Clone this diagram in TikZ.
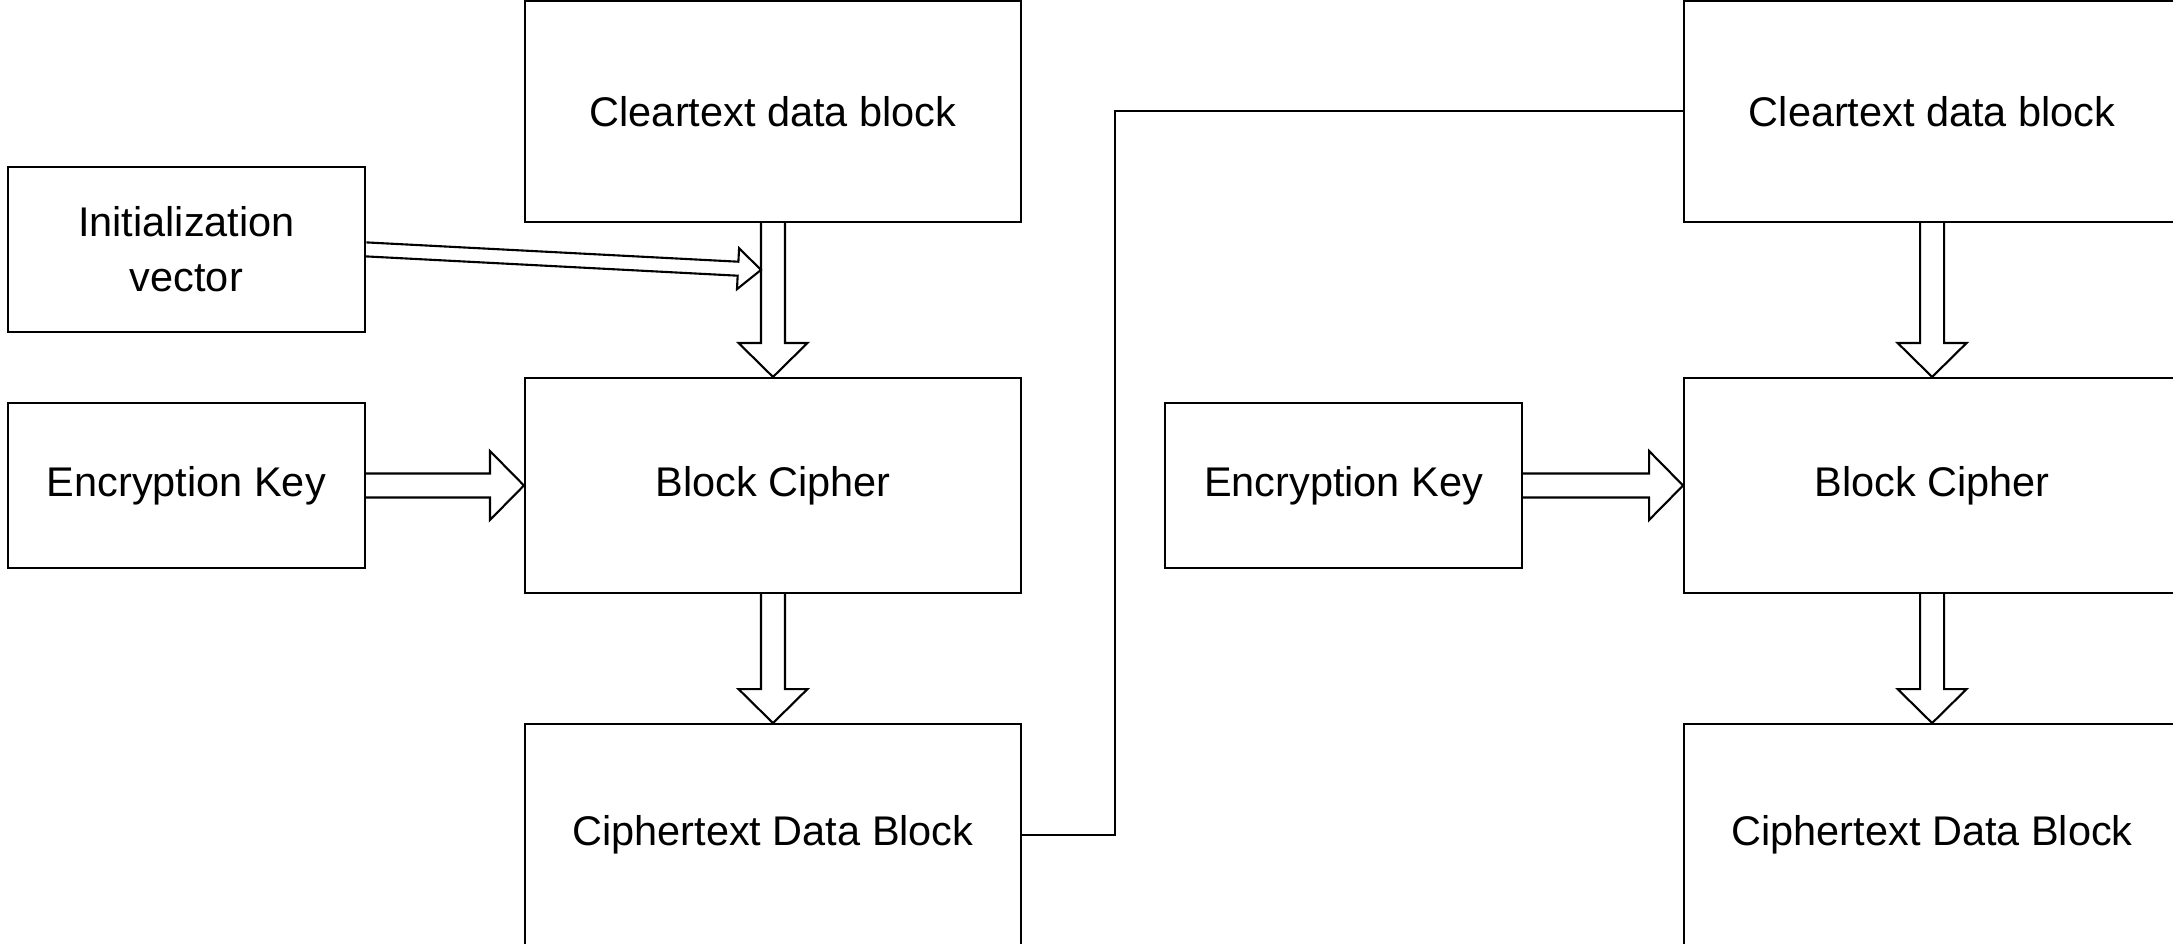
\documentclass[tikz,border=0pt]{standalone}
\usepackage{fontspec}
\setmainfont{Liberation Sans}
\usetikzlibrary{calc,positioning}

\begin{document}
\begin{tikzpicture}[semithick, node distance = 1.54cm, font=\fontsize{11.8}{15.6}\selectfont]
\tikzstyle{block}=[draw=black, fill=none, text=black, align=center, minimum width=4.96cm, minimum height=2.15cm]
\tikzstyle{data}=[block, minimum height=2.21cm]
\tikzstyle{side}=[block, minimum width=3.57cm, minimum height=1.65cm]
\tikzstyle{hollow}=[to path={let \p1=($(\tikztotarget)!\arrhl!(\tikztostart)$) in
	($(\tikztostart)!\arrsw!90:(\tikztotarget)$) -- ($(\p1)!\arrsw!90:(\tikztotarget)$)
	-- ($(\p1)!\arrhw!90:(\tikztotarget)$) -- (\tikztotarget)
	-- ($(\p1)!\arrhw!-90:(\tikztotarget)$) -- ($(\p1)!\arrsw!-90:(\tikztotarget)$)
	-- ($(\tikztostart)!\arrsw!-90:(\tikztotarget)$)}]
\tikzstyle{fat arrow}=[hollow, /utils/exec={\def\arrsw{0.12cm}\def\arrhw{0.345cm}\def\arrhl{0.34cm}}]
\tikzstyle{slim arrow}=[hollow, /utils/exec={\def\arrsw{0.07cm}\def\arrhw{0.205cm}\def\arrhl{0.23cm}}]

\useasboundingbox (0,0) rectangle (21.73,-9.44);

% first round
\node[block]	(bc1) at (7.73,-4.855)		{Block Cipher};
\node[data]	(clear1) [above=of bc1]		{Cleartext data block};
\node[data]	(ct1) [below=1.29cm of bc1]	{Ciphertext Data Block};
\node[side]	(ek1) [left=1.58cm of bc1]	{Encryption Key};
\node[side]	(iv) [above=0.69cm of ek1]	{Initialization\\vector};

% second round
\node[block]	(bc2) [right=6.61cm of bc1]	{Block Cipher};
\node[data]	(clear2) [above=of bc2]		{Cleartext data block};
\node[data]	(ct2) [below=1.29cm of bc2]	{Ciphertext Data Block};
\node[side]	(ek2) [left=1.6cm of bc2]	{Encryption Key};

\coordinate (cout1) at (bc1.north |- clear1.south);
\coordinate (ivin) at ($(bc1.north |- iv.east)+(-0.12,-0.205)$);

\draw[fat arrow]	(cout1) to (bc1.north);
\draw[slim arrow]	(iv.east) to (ivin);
\draw[fat arrow]	(ek1.east) to (bc1.west);
\draw[fat arrow]	(bc1.south) to (ct1.north);

\draw[fat arrow]	(clear2.south) to (bc2.north);
\draw[fat arrow]	(ek2.east) to (bc2.west);
\draw[fat arrow]	(bc2.south) to (ct2.north);

\draw (ct1.east) -- ++(0.93,0) |- (clear2.west);

\end{tikzpicture}
\end{document}
